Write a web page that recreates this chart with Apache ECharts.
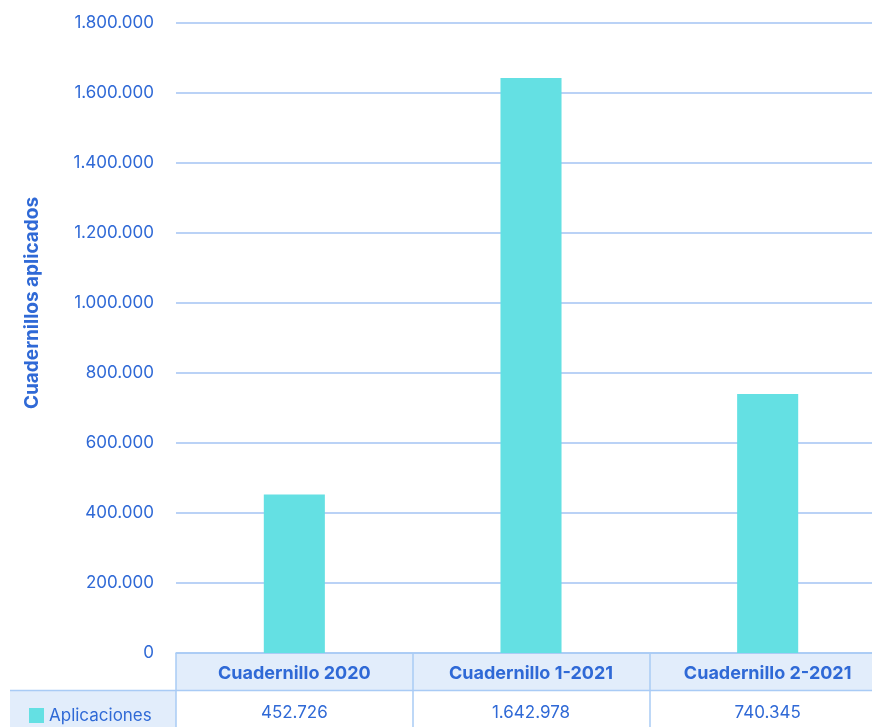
<!DOCTYPE html>
<html>
<head>
<meta charset="utf-8">
<script src="https://cdn.jsdelivr.net/npm/echarts@6/dist/echarts.min.js"></script>
<style>
  html, body { margin: 0; padding: 0; background: #fff; }
  #chart { width: 872px; height: 727px; }
</style>
</head>
<body>
<div id="chart"></div>
<script>
// datos
const categories = ['Cuadernillo 2020', 'Cuadernillo 1-2021', 'Cuadernillo 2-2021'];
const aplicaciones = [452726, 1642978, 740345];
const seriesName = 'Aplicaciones';

const blue = '#2F69D6';
const border = '#A9CBF5';
const gridLine = '#A3C3F3';
const cellBg = '#E2EDFB';
const font = 'Inter, "Noto Sans", sans-serif';

// separador de miles con punto
const fmt = v => String(v).replace(/\B(?=(\d{3})+(?!\d))/g, '.');

const chart = echarts.init(document.getElementById('chart'));

chart.setOption({
  textStyle: { fontFamily: font },
  // el área del gráfico sigue un poco más allá del borde derecho (recortada)
  grid: { left: 176, width: 710, top: 23, bottom: 74, outerBoundsMode: 'none' },
  legend: {
    data: [seriesName],
    left: 24,
    top: 702,
    icon: 'rect',
    itemWidth: 15,
    itemHeight: 15,
    itemGap: 6,
    textStyle: { color: blue, fontSize: 17, fontFamily: font }
  },
  graphic: [
    { type: 'rect', z: -10, shape: { x: 176, y: 653, width: 710, height: 37 }, style: { fill: cellBg } },
    { type: 'rect', z: -10, shape: { x: 10, y: 690, width: 166, height: 37 }, style: { fill: cellBg } },
    { type: 'line', z: 10, shape: { x1: 10, y1: 690.5, x2: 872, y2: 690.5 }, style: { stroke: border, lineWidth: 1.5 } }
  ],
  xAxis: [
    {
      type: 'category',
      data: categories,
      axisLine: { show: true, lineStyle: { color: border, width: 1.5 } },
      axisTick: { show: true, interval: 0, length: 74, lineStyle: { color: border, width: 1.5 } },
      axisLabel: {
        color: blue, fontSize: 18, fontWeight: 'bold', fontFamily: font,
        margin: 21, verticalAlign: 'middle', interval: 0
      }
    },
    {
      type: 'category',
      position: 'bottom',
      offset: 37,
      data: aplicaciones.map(fmt),
      axisLine: { show: false },
      axisTick: { show: false },
      axisLabel: {
        color: blue, fontSize: 17, fontFamily: font,
        margin: 23, verticalAlign: 'middle', interval: 0
      }
    }
  ],
  yAxis: {
    type: 'value',
    min: 0,
    max: 1800000,
    interval: 200000,
    name: 'Cuadernillos aplicados',
    nameLocation: 'middle',
    nameGap: 134,
    nameRotate: 90,
    nameTextStyle: { color: blue, fontSize: 19, fontWeight: 'bold', fontFamily: font, padding: [0, 0, 0, 70] },
    axisLine: { show: false },
    axisTick: { show: false },
    axisLabel: { color: blue, fontSize: 17, fontFamily: font, margin: 22, formatter: fmt },
    splitLine: { show: true, lineStyle: { color: [gridLine], width: 1.5, type: 'solid', opacity: 1 } }
  },
  series: [
    {
      name: seriesName,
      type: 'bar',
      xAxisIndex: 0,
      data: aplicaciones,
      barWidth: '25.8%',
      itemStyle: { color: '#64E0E3' }
    }
  ]
});
</script>
</body>
</html>
